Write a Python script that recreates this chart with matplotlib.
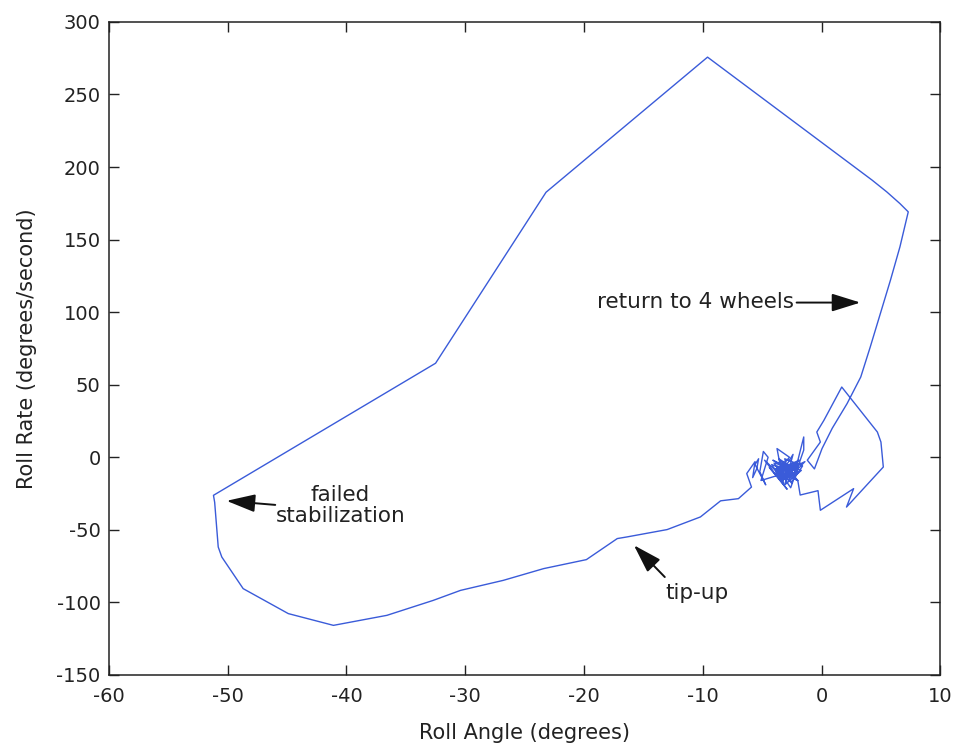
import matplotlib.pyplot as plt

plt.rcParams['font.family'] = ['DejaVu Sans']
plt.rcParams['axes.unicode_minus'] = False

# roll angle (deg) / roll rate (deg/s) in path order
roll_angle = [
    -2.0, -3.6, -2.4, -3.1, -1.7, -4.0, -2.6, -1.5, -1.5, -2.3,
    -3.3, -2.0, -3.8, -2.7, -3.75, -3.2, -4.4, -2.9, -4.8, -3.5,
    -5.1, -4.5, -4.9, -5.2, -4.7, -5.6, -5.3, -5.45, -5.8, -5.6,
    -6.3, -5.9, -7.0, -8.5,
    -10.2, -13.0, -16.4, -17.2, -19.8, -23.4, -26.8, -30.4, -32.7, -36.6,
    -41.1, -44.9, -48.7, -50.5, -50.8, -51.1, -51.2,
    -32.5, -23.2, -9.6, 4.25, 5.5, 6.6, 7.3,
    6.6, 5.8, 4.95, 4.1, 3.3, 2.15, 0.9, 0.04,
    -0.6, -1.2, -0.1, -0.4, 0.2, 1.7,
    4.7, 5.0, 5.2, 2.1, 2.7, -0.1, -0.3, -1.8, -2.0,
    -3.4, -1.9, -3.0, -2.2, -3.9, -2.5, -1.6, -3.1, -2.7, -1.4,
    -2.9, -4.2, -3.3, -2.3, -3.6, -2.8, -2.1, -3.2, -2.6, -2.9,
    -1.8, -3.5, -2.4, -4.1, -3.0, -2.2, -3.7, -2.5, -3.3, -2.0,
    -2.8, -3.9, -2.3, -3.1, -2.6,
]
roll_rate = [
    -6, -14, 2, -19, -9, -4, -21, 5, 14, -12,
    -3, -16, -10, 0, 6, -18, -7, -22, -2, -12,
    -16, 0, 4, -10, -19, -5, -1, -7.8, -14, -3,
    -11.2, -20.5, -28.5, -30,
    -41.1, -49.8, -54.9, -56, -70.5, -76.7, -84.8, -91.7, -98.6, -108.9,
    -115.8, -107.7, -90.5, -68.7, -61.8, -31, -26.2,
    64.8, 182.6, 275.7, 191, 182.8, 174.8, 169.1,
    145, 122, 99, 76, 55.3, 37, 20, 6,
    -8, -2, 10.5, 17.4, 25.5, 48.4,
    17.4, 10.5, -6.7, -34.3, -21.6, -36.5, -23, -26, -16,
    -8, -2, -13, -5, -11, -17, -6, -1, -14, -3,
    -9, -5, -16, -8, -1, -12, -10, -6, -11, -7,
    -4, -15, -9, -2, -7, -13, -6, -18, -3, -10,
    -12, -8, -4, -15, -7,
]

fig = plt.figure(figsize=(9.6, 7.49), dpi=100)
ax = fig.add_axes([0.1135, 0.0988, 0.866, 0.872])

ax.plot(roll_angle, roll_rate, color='#3a5bd9', linewidth=1.0)

ax.set_xlim(-60, 10)
ax.set_ylim(-150, 300)
ax.set_xticks(range(-60, 11, 10))
ax.set_yticks(range(-150, 301, 50))
ax.tick_params(direction='in', length=7, width=1, top=True, right=True,
               labelsize=14, colors='#222222')
ax.tick_params(axis='x', pad=9)
ax.tick_params(axis='y', pad=6)
for s in ax.spines.values():
    s.set_linewidth(1.1)
    s.set_color('#222222')

ax.set_xlabel('Roll Angle (degrees)', fontsize=15, color='#222222', labelpad=12)
ax.set_ylabel('Roll Rate (degrees/second)', fontsize=15, color='#222222', labelpad=14)

arrow = dict(arrowstyle='-|>,head_length=0.8,head_width=0.25', color='#111111',
             lw=1.4, mutation_scale=22, shrinkA=0, shrinkB=0)

# annotations
ax.annotate('', xy=(-50.1, -30), xytext=(-46.0, -32.8), arrowprops=arrow)
ax.text(-40.5, -33, 'failed\nstabilization', fontsize=15.5, ha='center', va='center',
        color='#222222', linespacing=1.05)

ax.annotate('', xy=(3.27, 106.6), xytext=(-2.1, 106.6), arrowprops=arrow)
ax.text(-2.3, 106.8, 'return to 4 wheels', fontsize=15.5, ha='right', va='center',
        color='#222222')

ax.annotate('', xy=(-15.8, -60.6), xytext=(-13.2, -82.5), arrowprops=arrow)
ax.text(-10.5, -93.6, 'tip-up', fontsize=15.5, ha='center', va='center',
        color='#222222')

plt.savefig('out.png')
